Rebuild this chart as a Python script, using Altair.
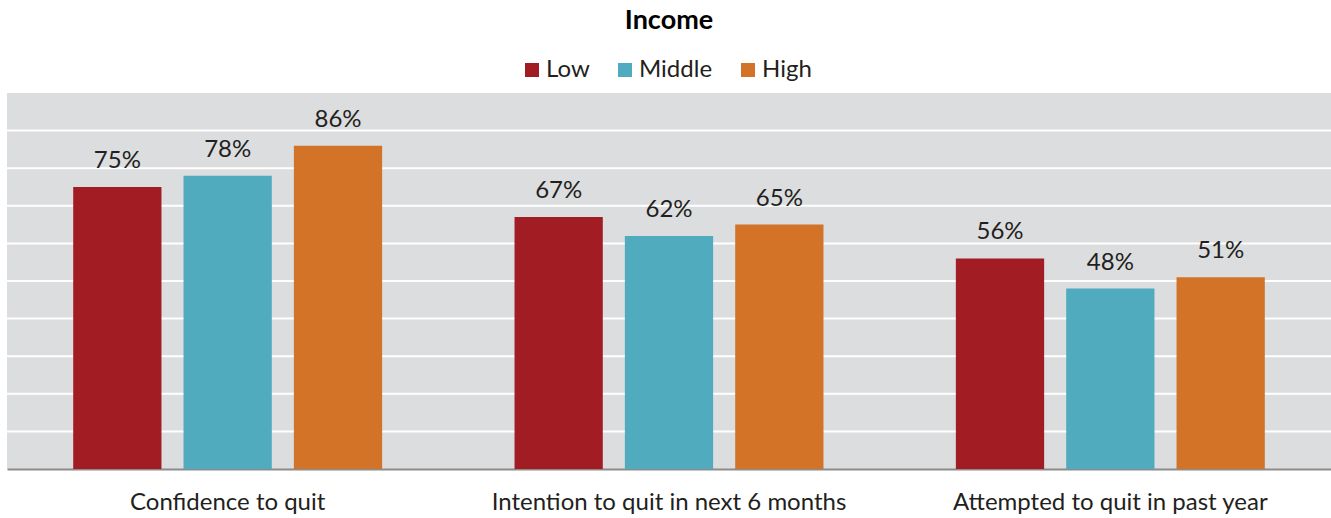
import altair as alt
import pandas as pd

# Survey measures and income groups
measures = [
    "Confidence to quit",
    "Intention to quit in next 6 months",
    "Attempted to quit in past year",
]
incomes = ["Low", "Middle", "High"]
low_vals = [75, 67, 56]
middle_vals = [78, 62, 48]
high_vals = [86, 65, 51]
colors = ["#a21c23", "#51abbe", "#d27328"]
grid_values = list(range(10, 100, 10))

rows = []
for i, m in enumerate(measures):
    for inc, vals in zip(incomes, [low_vals, middle_vals, high_vals]):
        rows.append({"measure": m, "income": inc, "value": vals[i]})
df = pd.DataFrame(rows)
df["label"] = df["value"].astype(str) + "%"
grid_df = pd.DataFrame({"g": grid_values})

FONT = "Lato"
TEXT = "#231f20"
FS = 24

x_enc = alt.X(
    "measure:N",
    sort=measures,
    scale=alt.Scale(paddingInner=0, paddingOuter=0),
    axis=alt.Axis(
        title=None,
        labelAngle=0,
        labelFontSize=FS,
        labelFont=FONT,
        labelColor=TEXT,
        labelPadding=21,
        labelLimit=0,
        ticks=False,
        domainColor="#8c8c8c",
        domainWidth=2,
        grid=False,
    ),
)
xoff_enc = alt.XOffset(
    "income:N", sort=incomes, scale=alt.Scale(paddingInner=0.2, paddingOuter=0.6)
)
y_scale = alt.Scale(domain=[0, 100], nice=False)
y_enc = alt.Y("value:Q", scale=y_scale, axis=None)

# white horizontal gridlines every 10%
grid = alt.Chart(grid_df).mark_rule(color="#ffffff", strokeWidth=2).encode(
    y=alt.Y("g:Q", scale=y_scale, axis=None)
)

bars = alt.Chart(df).mark_bar().encode(
    x=x_enc,
    xOffset=xoff_enc,
    y=y_enc,
    color=alt.Color(
        "income:N",
        sort=incomes,
        scale=alt.Scale(domain=incomes, range=colors),
        legend=alt.Legend(
            title=None,
            orient="none",
            direction="horizontal",
            legendX=513,
            legendY=-35,
            symbolType="square",
            symbolSize=196,
            symbolStrokeWidth=0,
            symbolOpacity=1,
            labelFontSize=FS,
            labelFont=FONT,
            labelColor=TEXT,
            labelOffset=2,
            columnPadding=23,
        ),
    ),
)

labels = alt.Chart(df).mark_text(
    baseline="alphabetic", dy=-19, fontSize=FS, font=FONT, color=TEXT
).encode(
    x=x_enc,
    xOffset=xoff_enc,
    y=y_enc,
    text="label:N",
)

chart = (
    alt.layer(grid, bars, labels)
    .properties(
        width=1324,
        height=376,
        autosize=alt.AutoSizeParams(type="none"),
        padding={"left": 7, "top": 93, "right": 0, "bottom": 49},
        title=alt.TitleParams(
            "Income",
            anchor="middle",
            fontSize=27,
            font=FONT,
            fontWeight="bold",
            color="#000000",
            offset=23,
        ),
        background="#ffffff",
    )
    .configure_view(fill="#dcdddf", stroke=None)
)

chart.save("out.html", embed_options={"renderer": "svg", "actions": False})
